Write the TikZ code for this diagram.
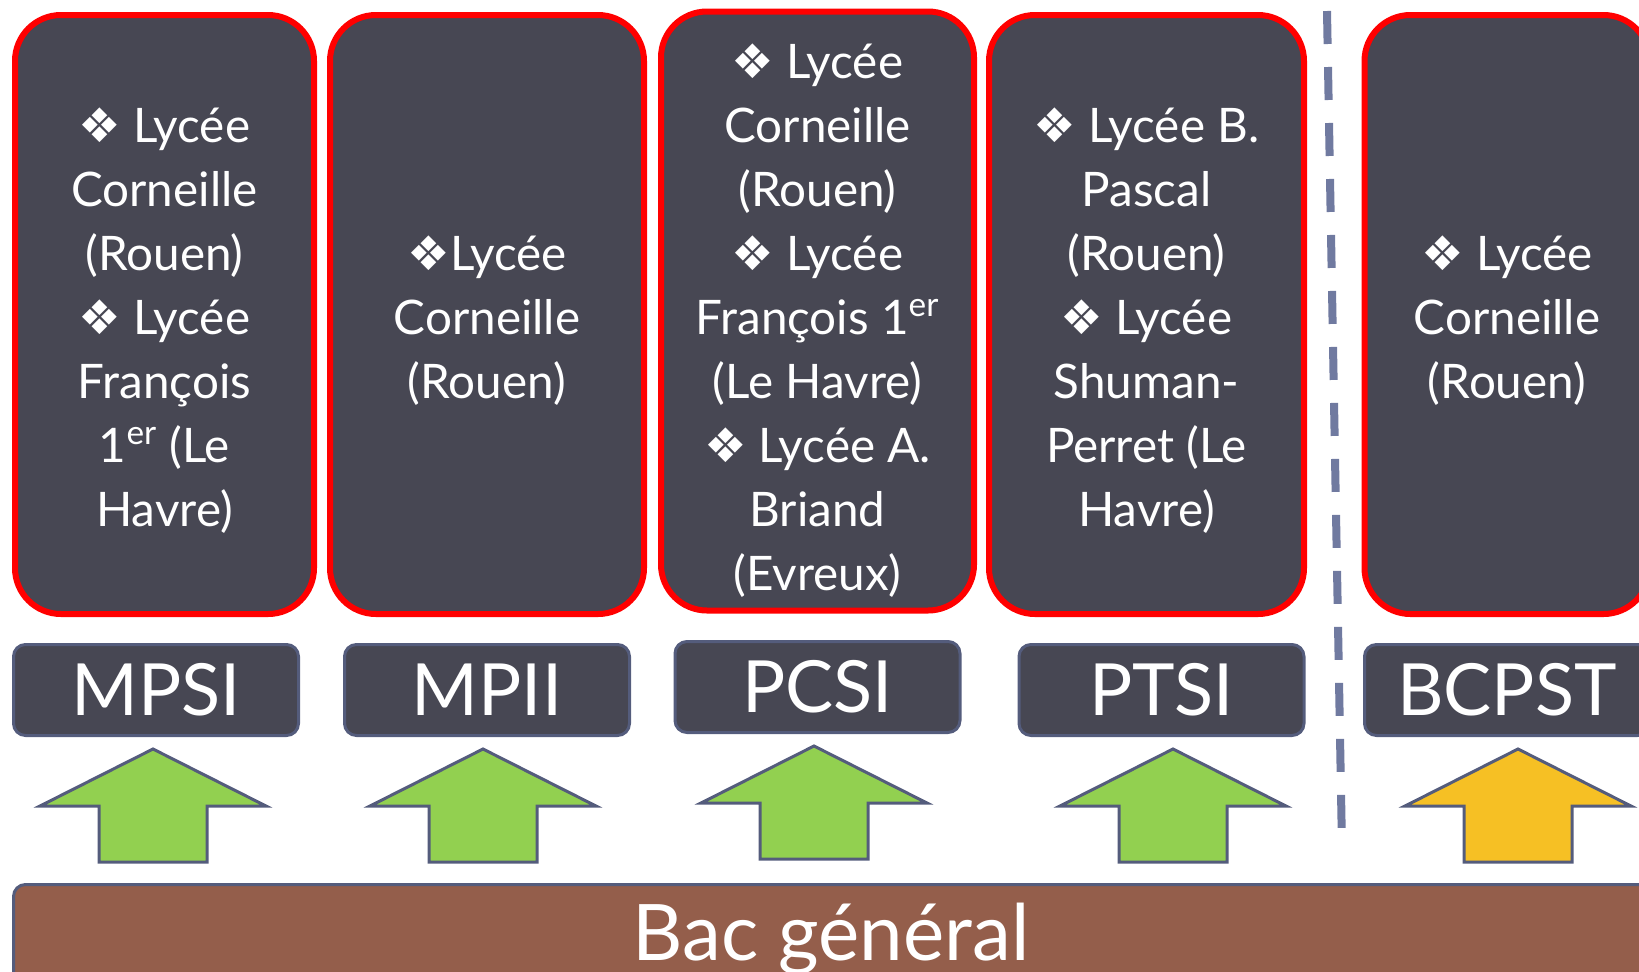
\documentclass[tikz,border=0pt]{standalone}
\usepackage{fontspec}
\setmainfont{Lato}
\newfontfamily\symbfont{DejaVu Sans}
\newcommand{\puce}{{\symbfont ❖}}
\definecolor{fond}{RGB}{71,71,83}
\definecolor{rouge}{RGB}{255,0,0}
\definecolor{bordure}{RGB}{84,92,124}
\definecolor{pointille}{RGB}{112,122,160}
\definecolor{vert}{RGB}{146,208,80}
\definecolor{jaune}{RGB}{246,192,36}
\definecolor{brun}{RGB}{148,94,75}
\tikzset{
  lycees/.style={draw=rouge, fill=fond, line width=3pt, rounded corners=23pt,
    minimum height=299.5pt, inner sep=0pt},
  texte/.style={align=center, text=white, inner sep=0pt, yshift=-3.2pt,
    font=\fontsize{23.8}{32}\selectfont},
  filiere/.style={draw=bordure, fill=fond, line width=1.5pt, rounded corners=6pt,
    minimum width=142.5pt, minimum height=45.5pt, inner sep=0pt, text=white,
    font=\fontsize{36}{40}\selectfont},
  fleche/.style={draw=bordure, line width=1.5pt, line join=miter}
}
\begin{document}
\begin{tikzpicture}[x=0.5pt,y=-0.5pt]
  \useasboundingbox (0,0) rectangle (1639,971);
  % les lycees
  \node[lycees, minimum width=149.5pt] (lyMPSI) at (164.5,314.5) {};
  \node[texte] (txMPSI) at (lyMPSI.center)
    {\puce{} Lycée\\Corneille\\(Rouen)\\\puce{} Lycée\\François\\1\textsuperscript{er} (Le\\Havre)};
  \node[lycees, minimum width=157pt] (lyMPII) at (487,314.5) {};
  \node[texte] (txMPII) at (lyMPII.center) {\puce{}Lycée\\Corneille\\(Rouen)};
  \node[lycees, minimum width=156.5pt] (lyPCSI) at (817.5,311) {};
  \node[texte, yshift=-1.5pt] (txPCSI) at (lyPCSI.center)
    {\puce{} Lycée\\Corneille\\(Rouen)\\\puce{} Lycée\\François 1\textsuperscript{er}\\(Le Havre)\\\puce{} Lycée A.\\Briand\\(Evreux)};
  \node[lycees, minimum width=157.5pt] (lyPTSI) at (1146.5,314.5) {};
  \node[texte] (txPTSI) at (lyPTSI.center)
    {\puce{} Lycée B.\\Pascal\\(Rouen)\\\puce{} Lycée\\Shuman-\\Perret (Le\\Havre)};
  \node[lycees, minimum width=142.5pt] (lyBCPST) at (1507,314.5) {};
  \node[texte] (txBCPST) at (lyBCPST.center) {\puce{} Lycée\\Corneille\\(Rouen)};
  % les filieres
  \node[filiere] (MPSI) at (156,690) {MPSI};
  \node[filiere] (MPII) at (487,690) {MPII};
  \node[filiere] (PCSI) at (817.5,687) {PCSI};
  \node[filiere] (PTSI) at (1161.5,690) {PTSI};
  \node[filiere] (BCPST) at (1507,690) {BCPST};
  % separation
  \draw[pointille, line width=4pt, dash pattern=on 16.5pt off 11.5pt] (1327,11) -- (1342,848);
  % les fleches
  \foreach \x/\t/\c in {153/749/vert, 483/749/vert, 814/746/vert, 1173/749/vert, 1518/749/jaune}
    \draw[fleche, fill=\c] (\x,\t) -- (\x+113,\t+57) -- (\x+54,\t+57) -- (\x+54,\t+113)
      -- (\x-54,\t+113) -- (\x-54,\t+57) -- (\x-113,\t+57) -- cycle;
  % le bac
  \draw[draw=bordure, fill=brun, line width=1.5pt, rounded corners=6pt] (13.5,884.5) rectangle (1720,1060);
  \node[anchor=base, text=white, font=\fontsize{39}{42}\selectfont] (bac) at (831,960) {Bac général};
\end{tikzpicture}
\end{document}
